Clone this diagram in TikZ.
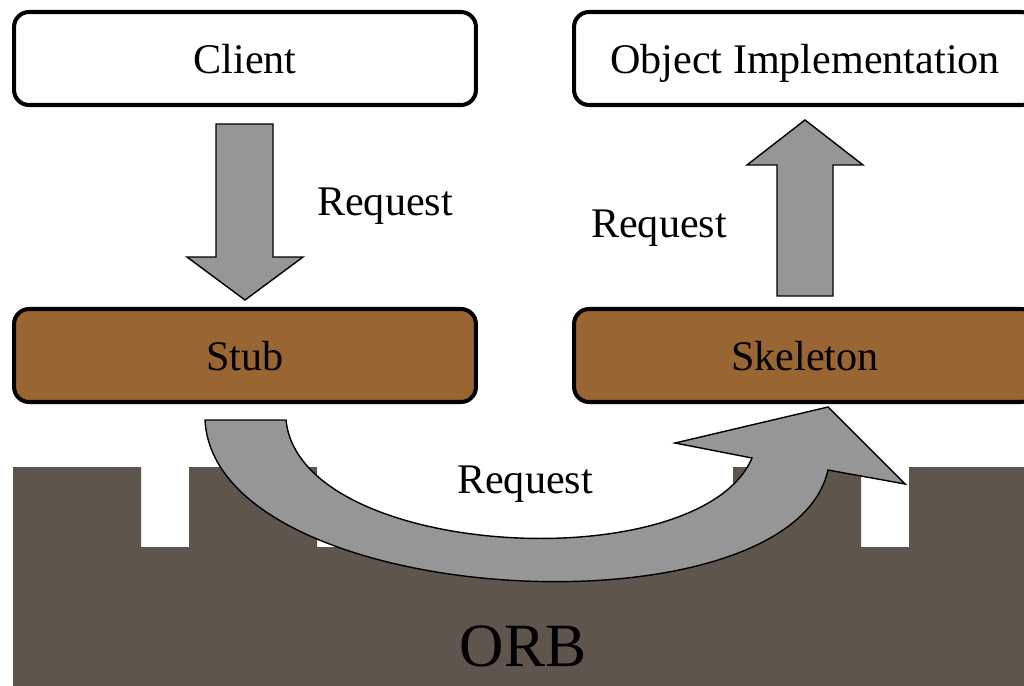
\documentclass[tikz,border=0pt]{standalone}
\usepackage{fontspec}
\setmainfont{Liberation Serif}
\definecolor{stubbrown}{HTML}{996633}
\definecolor{orbgray}{HTML}{5E564D}
\definecolor{arrowgray}{HTML}{969696}
\tikzset{
  layerbox/.style={draw, line width=2.3pt, rounded corners=0.3cm, minimum width=9.24cm, minimum height=1.86cm, inner sep=0pt, text height=0.6cm, text depth=0pt},
  blockarrow/.style={draw, line width=0.8pt, fill=arrowgray, line join=miter},
  lbl/.style={font=\fontsize{24}{28}\selectfont}
}
\begin{document}
\begin{tikzpicture}[x=0.02cm, y=-0.02cm, line join=round, line cap=round]
       	\useasboundingbox (0,0) rectangle (1024,686);
       	\clip (0,0) rectangle (1024,686);
       	\fill[orbgray] (13,690)--(13,467)--(141,467)--(141,547)--(189,547)--(189,467)--(317,467)--(317,547)--(733,547)--(733,467)--(861,467)--(861,547)--(909,547)--(909,467)--(1030,467)--(1030,690)--cycle;
       	\node[font=\fontsize{35}{40}\selectfont, anchor=base] (orb) at (523,666) {ORB};
       	\node[layerbox, fill=white, lbl] (client) at (245,58.5) {Client};
       	\node[layerbox, fill=white, lbl] (impl) at (805,58.5) {Object Implementation};
       	\node[layerbox, fill=stubbrown, lbl] (stub) at (245,355.5) {Stub};
       	\node[layerbox, fill=stubbrown, lbl] (skel) at (805,355.5) {Skeleton};
       	\draw[blockarrow] ([shift={(-29,17)}]client.south)--([shift={(28,17)}]client.south)--([shift={(28,150)}]client.south)--([shift={(58,150)}]client.south)--([shift={(0,193)}]client.south)--([shift={(-58,150)}]client.south)--([shift={(-29,150)}]client.south)--cycle;
       	\draw[blockarrow] ([shift={(-28,-11)}]skel.north)--([shift={(28,-11)}]skel.north)--([shift={(28,-142)}]skel.north)--([shift={(58,-142)}]skel.north)--([shift={(0,-187)}]skel.north)--([shift={(-58,-142)}]skel.north)--([shift={(-28,-142)}]skel.north)--cycle;
       	\coordinate (outA) at ([shift={(-40,16)}]stub.south);
       	\coordinate (inA) at ([shift={(41,16)}]stub.south);
       	\draw[blockarrow] (outA)--(inA) .. controls (300,560) and (700,580) .. (752,458)--(675,443)--(828,407)--(905,484)--(828,470) .. controls (790,640) and (215,610) .. (outA)--cycle;
       	\node[lbl, anchor=base] (req1) at (385,215) {Request};
       	\node[lbl, anchor=base] (req2) at (659,237) {Request};
       	\node[lbl, anchor=base] (req3) at (525,493) {Request};
\end{tikzpicture}
\end{document}
